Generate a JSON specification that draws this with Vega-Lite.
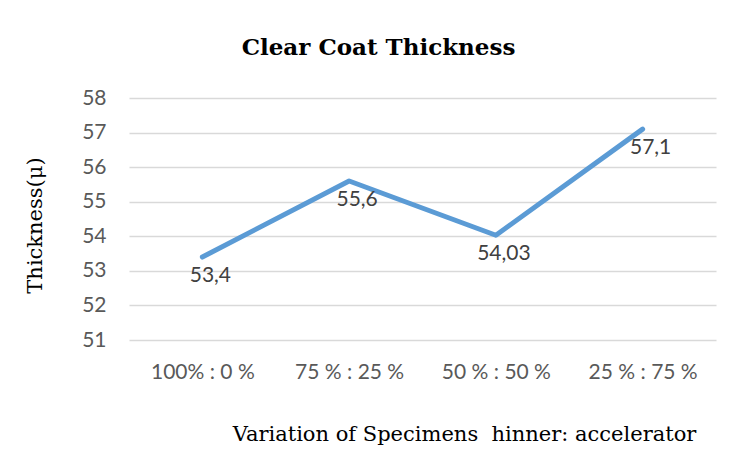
{
  "$schema": "https://vega.github.io/schema/vega-lite/v6.json",
  "width": 587,
  "height": 242,
  "autosize": {"type": "none"},
  "padding": {"left": 129, "top": 98, "right": 16, "bottom": 115},
  "background": "white",
  "title": {
    "text": "Clear Coat Thickness",
    "font": "DejaVu Serif",
    "fontSize": 23,
    "fontWeight": "bold",
    "color": "#000000",
    "anchor": "middle",
    "dx": -44,
    "offset": 27
  },
  "data": {
    "values": [
      {"ratio": "100% : 0 %", "thickness": 53.4, "label": "53,4"},
      {"ratio": "75 % : 25 %", "thickness": 55.6, "label": "55,6"},
      {"ratio": "50 % : 50 %", "thickness": 54.03, "label": "54,03"},
      {"ratio": "25 % : 75 %", "thickness": 57.1, "label": "57,1"}
    ]
  },
  "encoding": {
    "x": {
      "field": "ratio",
      "type": "nominal",
      "sort": null,
      "scale": {"type": "point", "padding": 0.5},
      "axis": {
        "title": "Variation of Specimens \u00a0hinner: accelerator",
        "titleFont": "DejaVu Serif",
        "titleFontSize": 21,
        "titleFontWeight": "normal",
        "titleColor": "#000000",
        "titleX": 335,
        "titleY": 100,
        "titleBaseline": "alphabetic",
        "labelFont": "Lato",
        "labelFontSize": 21,
        "labelColor": "#595959",
        "labelAngle": 0,
        "labelPadding": 21,
        "ticks": false,
        "domain": false,
        "grid": false
      }
    },
    "y": {
      "field": "thickness",
      "type": "quantitative",
      "scale": {"domain": [51, 58], "zero": false},
      "axis": {
        "title": "Thickness(\u03bc)",
        "titleFont": "DejaVu Serif",
        "titleFontSize": 21,
        "titleFontWeight": "normal",
        "titleColor": "#000000",
        "titleX": -94,
        "titleY": 127,
        "titleAngle": -90,
        "titleAlign": "center",
        "titleBaseline": "middle",
        "values": [51, 52, 53, 54, 55, 56, 57, 58],
        "labelFont": "Lato",
        "labelFontSize": 21,
        "labelColor": "#595959",
        "labelPadding": 23,
        "ticks": false,
        "domain": false,
        "grid": true,
        "gridColor": "#d9d9d9",
        "gridWidth": 1.3
      }
    }
  },
  "layer": [
    {
      "mark": {"type": "line", "color": "#5b9bd5", "strokeWidth": 5, "strokeCap": "round", "strokeJoin": "round"}
    },
    {
      "mark": {"type": "text", "font": "Lato", "fontSize": 21, "color": "#404040", "dx": 8, "dy": 19, "baseline": "middle", "align": "center"},
      "encoding": {"text": {"field": "label"}}
    }
  ],
  "config": {"view": {"stroke": null}}
}
